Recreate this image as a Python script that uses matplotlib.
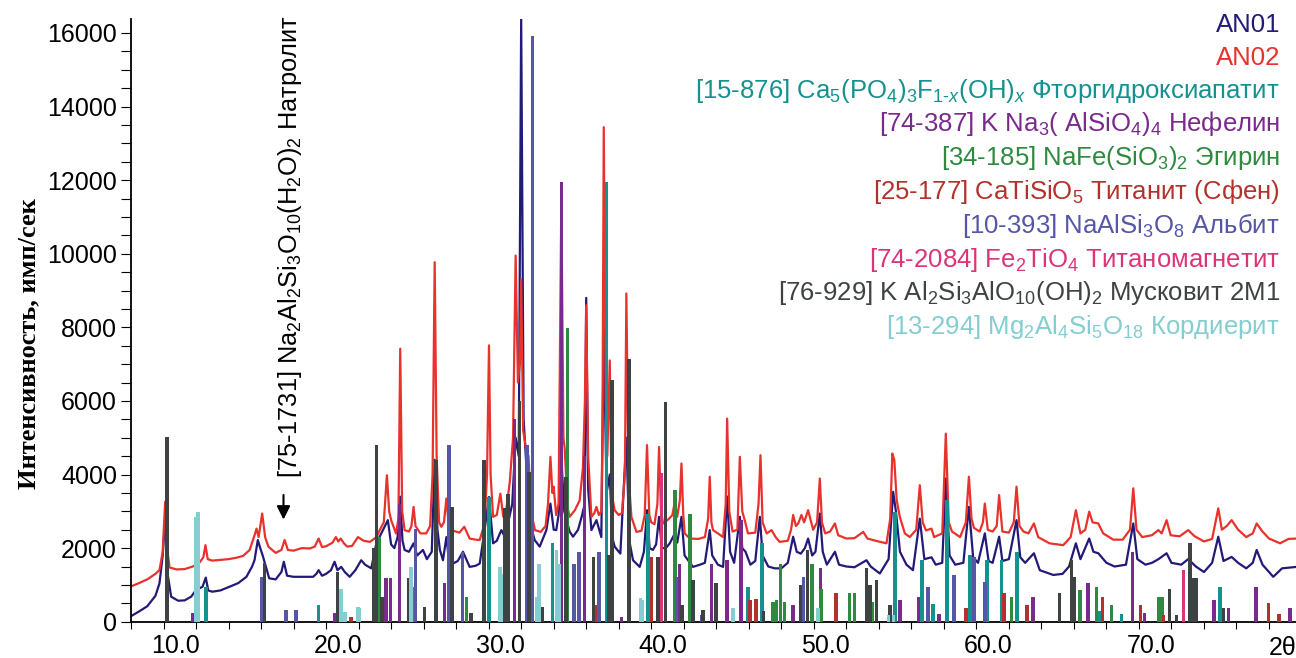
import numpy as np
import matplotlib
matplotlib.use('Agg')
import matplotlib.pyplot as plt
from matplotlib.transforms import ScaledTranslation

# ---- данные (2θ, имп/сек) ----
an02_points = [
    (8.0, 960), (8.5, 1050), (9.0, 1150), (9.5, 1300), (9.75, 1400), (9.95, 1900), (10.1, 3260),
    (10.22, 2000), (10.37, 1475), (10.8, 1420), (11.3, 1430), (11.8, 1500), (12.2, 1600), (12.45, 1750),
    (12.58, 2080), (12.72, 1700), (13.0, 1660), (13.5, 1680), (14.0, 1700), (14.5, 1740), (14.9, 1790),
    (15.3, 1950), (15.6, 2350), (15.72, 2530), (15.85, 2300), (16.07, 2940), (16.25, 2300), (16.45, 2040),
    (16.9, 1870), (17.25, 1950), (17.45, 2220), (17.65, 1950), (18.0, 1930), (18.5, 2000), (19.0, 1990),
    (19.3, 2040), (19.54, 2260), (19.75, 2030), (20.0, 2050), (20.4, 2150), (20.6, 2300), (20.75, 2180),
    (20.9, 2260), (21.1, 2130), (21.3, 2040), (21.6, 2060), (21.96, 2300), (22.3, 2200), (22.7, 2170),
    (23.1, 2300), (23.3, 2490), (23.55, 2700), (23.74, 3980), (23.88, 3000), (24.0, 2760), (24.3, 2400),
    (24.45, 2800), (24.56, 7420), (24.68, 3000), (24.83, 2490), (25.1, 2450), (25.25, 2600), (25.38, 3120),
    (25.5, 2600), (25.8, 2400), (26.16, 2400), (26.4, 2600), (26.55, 4000), (26.68, 9770), (26.8, 4500),
    (26.95, 2700), (27.09, 2580), (27.25, 2700), (27.4, 3350), (27.55, 2600), (27.7, 2490), (28.2, 2420),
    (28.5, 2580), (28.83, 2260), (29.2, 2230), (29.45, 2220), (29.75, 2670), (29.9, 4000), (30.02, 7510),
    (30.12, 4000), (30.27, 2850), (30.5, 2900), (30.72, 3480), (30.9, 2850), (31.1, 3100), (31.3, 3800),
    (31.5, 5000), (31.66, 9950), (31.8, 6500), (31.92, 7000), (32.0, 9300), (32.12, 5200), (32.3, 4700),
    (32.45, 4500), (32.6, 3000), (32.85, 2490), (33.2, 2440), (33.5, 2600), (33.65, 3200), (33.8, 4480),
    (33.92, 3500), (34.0, 3670), (34.15, 2900), (34.3, 3200), (34.47, 11450), (34.6, 5000), (34.68, 4700),
    (34.85, 3100), (34.98, 2850), (35.3, 3030), (35.6, 3300), (35.8, 4200), (35.92, 6000), (36.0, 8600),
    (36.12, 4500), (36.32, 2850), (36.5, 2950), (36.63, 3120), (36.78, 2900), (36.93, 3000), (37.0, 5000),
    (37.08, 13440), (37.2, 6000), (37.3, 4500), (37.45, 7100), (37.56, 3500), (37.75, 3030), (38.0, 2900),
    (38.2, 2950), (38.38, 4000), (38.47, 8920), (38.6, 4000), (38.78, 2850), (39.09, 2440), (39.4, 2470),
    (39.6, 2900), (39.74, 4800), (39.88, 2900), (40.0, 2700), (40.2, 2650), (40.38, 3200), (40.48, 4750),
    (40.6, 3000), (40.73, 2670), (41.1, 2800), (41.3, 2900), (41.45, 3260), (41.6, 2850), (41.76, 3300),
    (41.86, 4300), (41.97, 2900), (42.06, 2400), (42.37, 2260), (42.9, 2250), (43.3, 2300), (43.5, 2800),
    (43.6, 3940), (43.7, 2700), (43.8, 2490), (44.1, 2400), (44.42, 2300), (44.58, 3200), (44.67, 5520),
    (44.8, 3000), (45.0, 2450), (45.3, 2500), (45.45, 4480), (45.6, 3000), (45.75, 2760), (45.95, 2400),
    (46.4, 2420), (46.6, 3200), (46.72, 4525), (46.85, 2700), (47.1, 2400), (47.4, 2490), (47.65, 2300),
    (47.9, 2170), (48.4, 2200), (48.6, 2500), (48.73, 2900), (48.9, 2600), (49.04, 2670), (49.24, 2900),
    (49.4, 2700), (49.65, 3030), (49.96, 2500), (50.2, 2700), (50.37, 3890), (50.5, 2700), (50.7, 2400),
    (51.0, 2450), (51.3, 2670), (51.5, 2350), (52.0, 2260), (52.5, 2270), (53.04, 2440), (53.3, 2260),
    (53.8, 2200), (54.47, 2130), (54.7, 2800), (54.83, 4570), (54.95, 4400), (55.1, 3300), (55.29, 2850),
    (55.6, 2400), (55.9, 2300), (56.3, 2500), (56.52, 3710), (56.7, 2700), (56.9, 2480), (57.24, 2530),
    (57.4, 2300), (57.9, 2400), (58.12, 5110), (58.3, 2700), (58.5, 2450), (59.0, 2300), (59.35, 2700),
    (59.54, 3940), (59.7, 2800), (59.85, 2550), (60.2, 2450), (60.4, 2700), (60.52, 3210), (60.7, 2500),
    (61.0, 2450), (61.25, 2600), (61.4, 3440), (61.6, 2450), (62.0, 2420), (62.3, 2700), (62.47, 3670),
    (62.65, 2600), (62.9, 2450), (63.2, 2400), (63.54, 2670), (63.8, 2300), (64.5, 2130), (65.34, 2080),
    (65.8, 2300), (66.12, 3030), (66.4, 2400), (66.7, 2500), (66.94, 2990), (67.15, 2700), (67.5, 2670),
    (67.8, 2400), (68.42, 2230), (69.0, 2230), (69.45, 2500), (69.65, 3625), (69.85, 2500), (70.2, 2300),
    (70.8, 2350), (71.19, 2490), (71.4, 2400), (71.7, 2760), (71.95, 2350), (72.5, 2320), (73.03, 2490),
    (73.4, 2330), (74.0, 2180), (74.5, 2250), (74.88, 3080), (75.1, 2500), (75.4, 2600), (75.7, 2760),
    (76.1, 2500), (76.6, 2300), (77.0, 2400), (77.24, 2670), (77.6, 2450), (78.0, 2260), (78.68, 2130),
    (79.2, 2250), (79.7, 2260),
]

an01_points = [
    (8.0, 150), (8.5, 280), (9.0, 420), (9.14, 500), (9.5, 700), (9.75, 1040), (9.95, 1800), (10.1, 2800),
    (10.25, 1300), (10.47, 680), (10.9, 570), (11.3, 580), (11.7, 680), (12.0, 860), (12.4, 950),
    (12.6, 1200), (12.75, 850), (13.0, 815), (13.5, 850), (14.06, 950), (14.6, 1050), (15.1, 1220),
    (15.45, 1500), (15.6, 1675), (15.8, 2220), (15.95, 2000), (16.1, 1800), (16.5, 1180), (16.9, 1150),
    (17.25, 1350), (17.4, 1630), (17.6, 1250), (18.0, 1220), (18.5, 1220), (19.2, 1220), (19.4, 1300),
    (19.54, 1400), (19.75, 1250), (20.0, 1300), (20.3, 1400), (20.52, 1630), (20.7, 1400), (20.93, 1490),
    (21.15, 1350), (21.45, 1220), (21.8, 1400), (22.16, 1670), (22.4, 1550), (22.78, 1450), (23.09, 2130),
    (23.5, 2490), (23.8, 2760), (24.0, 2100), (24.2, 2000), (24.4, 2300), (24.55, 3400), (24.7, 2200),
    (24.83, 1950), (25.1, 1900), (25.38, 2130), (25.6, 1800), (25.96, 1950), (26.2, 1700), (26.5, 1900),
    (26.68, 4400), (26.85, 2500), (27.0, 1950), (27.19, 1670), (27.4, 2300), (27.55, 1700), (27.8, 1580),
    (28.1, 1650), (28.42, 1900), (28.83, 1490), (29.2, 1520), (29.45, 1580), (29.75, 2490), (30.02, 3390),
    (30.27, 2130), (30.5, 2200), (30.78, 2490), (31.0, 2300), (31.2, 2700), (31.45, 3200), (31.66, 5000),
    (31.85, 4500), (32.0, 16400), (32.15, 5500), (32.35, 4000), (32.55, 2670), (32.83, 2220), (33.14, 2040),
    (33.55, 2490), (33.8, 3210), (34.0, 2500), (34.16, 2490), (34.3, 2900), (34.47, 4480), (34.65, 3000),
    (34.98, 2450), (35.19, 2310), (35.5, 2500), (35.75, 2900), (35.91, 3210), (36.0, 8800), (36.12, 3600),
    (36.32, 2490), (36.63, 2760), (36.93, 2300), (37.08, 8000), (37.25, 3500), (37.45, 4000), (37.6, 2300),
    (37.75, 2040), (38.1, 1850), (38.47, 5000), (38.65, 2200), (38.88, 1670), (39.29, 1490), (39.55, 1900),
    (39.74, 3030), (39.9, 2000), (40.1, 1950), (40.3, 2100), (40.48, 2850), (40.65, 2000), (40.9, 2000),
    (41.14, 2130), (41.45, 2400), (41.6, 2150), (41.86, 2850), (42.05, 1800), (42.57, 1490), (43.0, 1550),
    (43.3, 1600), (43.6, 2490), (43.75, 1800), (44.1, 1550), (44.42, 1490), (44.67, 3400), (44.85, 1900),
    (45.1, 1600), (45.45, 2850), (45.6, 2000), (45.8, 1900), (46.1, 1550), (46.4, 1650), (46.68, 2850),
    (46.85, 1800), (47.2, 1500), (47.6, 1450), (48.0, 1450), (48.4, 1600), (48.73, 2310), (48.95, 1900),
    (49.2, 1850), (49.45, 2000), (49.65, 2260), (49.9, 1800), (50.1, 1900), (50.37, 2940), (50.55, 1900),
    (50.8, 1550), (51.3, 1900), (51.55, 1550), (52.0, 1500), (52.5, 1480), (53.24, 1670), (53.5, 1500),
    (54.06, 1310), (54.6, 1700), (54.88, 3530), (55.05, 3000), (55.3, 1900), (55.7, 1550), (56.1, 1400),
    (56.52, 2800), (56.8, 1700), (57.24, 1750), (57.5, 1550), (57.9, 1600), (58.12, 3890), (58.35, 1800),
    (58.7, 1550), (59.2, 1600), (59.54, 3120), (59.8, 1750), (60.1, 1600), (60.52, 2400), (60.75, 1650),
    (61.0, 1600), (61.4, 2310), (61.6, 1650), (62.0, 1700), (62.47, 2760), (62.7, 1750), (63.0, 1600),
    (63.54, 1860), (63.9, 1400), (64.73, 1270), (65.3, 1300), (65.7, 1500), (66.12, 2130), (66.4, 1700),
    (66.94, 2260), (67.2, 1900), (67.5, 1860), (68.0, 1600), (68.5, 1500), (69.2, 1550), (69.65, 2670),
    (69.9, 1700), (70.4, 1550), (70.8, 1600), (71.2, 1700), (71.7, 1860), (72.0, 1600), (72.6, 1550),
    (73.03, 1700), (73.5, 1500), (74.0, 1350), (74.5, 1600), (74.88, 2310), (75.2, 1650), (75.7, 1760),
    (76.1, 1600), (76.6, 1450), (77.0, 1600), (77.24, 1950), (77.6, 1550), (78.26, 1220), (78.8, 1450),
    (79.7, 1490),
]

# штрих-диаграммы фаз из базы PDF
apatite = [(12.63, 950), (19.54, 450), (25.34, 950), (30.02, 3400), (33.92, 2130), (37.24, 11950),
           (38.6, 3100), (39.8, 2940), (45.96, 950), (46.8, 2130), (54.98, 2990), (56.65, 1670),
           (57.34, 480), (58.2, 3300), (59.62, 1800), (60.67, 1670), (61.55, 1670), (62.51, 1900),
           (67.6, 300), (68.93, 220), (71.29, 680), (74.98, 950)]
nepheline = [(11.8, 225), (20.52, 225), (23.7, 1180), (23.97, 1180), (24.52, 3200), (27.29, 1040),
             (31.6, 5500), (34.47, 11950), (35.6, 1900), (35.9, 4500), (38.16, 140), (41.75, 1580),
             (43.7, 1580), (44.65, 1670), (45.52, 2760), (48.73, 450), (50.4, 1450), (55.29, 590),
             (56.45, 680), (57.7, 200), (63.5, 680), (66.88, 1040), (69.6, 1900), (70.35, 225),
             (74.61, 590), (75.5, 360), (77.2, 950), (79.29, 360)]
aegirine = [(23.25, 2310), (28.63, 680), (34.84, 7970), (41.45, 3575), (42.37, 2940), (47.5, 540),
            (47.7, 600), (47.95, 1580), (48.2, 540), (49.9, 1580), (50.45, 900), (52.2, 770),
            (52.5, 770), (53.6, 540), (62.16, 680), (66.37, 860), (67.4, 950), (68.3, 450),
            (71.19, 680), (71.4, 680)]
titanite = [(20.79, 680), (21.55, 135), (36.58, 450), (40.01, 1760), (46.06, 590), (46.45, 630),
            (51.35, 770), (59.35, 360), (61.69, 770), (63.13, 450), (67.76, 680), (70.1, 450),
            (71.5, 180), (77.96, 500), (78.6, 220)]
albite = [(16.05, 1220), (17.55, 320), (18.16, 320), (25.51, 2530), (27.56, 4800), (28.38, 1900),
          (32.36, 4800), (32.69, 15930), (35.25, 1580), (35.56, 1900), (36.79, 1900), (41.55, 1220),
          (43.1, 180), (49.37, 1220), (57.03, 950), (58.61, 1270), (59.86, 1760), (60.52, 1090)]
titanomagnetite = [(40.63, 4030), (72.73, 1400)]
muscovite = [(10.23, 5020), (16.2, 1600), (20.69, 1360), (22.0, 120), (22.95, 1990), (23.11, 4800),
             (23.44, 680), (25.1, 1180), (26.06, 400), (26.75, 4400), (27.76, 3120), (28.93, 225),
             (29.72, 4390), (30.98, 3080), (31.19, 3480), (31.9, 6000), (32.48, 4070), (33.27, 400),
             (34.74, 3940), (36.46, 1760), (37.4, 1810), (37.59, 6560), (38.65, 7150), (40.42, 1760),
             (40.89, 5970), (41.9, 450), (42.57, 1130), (43.19, 320), (44.0, 1040), (46.9, 300),
             (49.18, 1000), (49.6, 1950), (53.24, 1450), (53.45, 1000), (53.85, 1130), (54.68, 450),
             (65.1, 770), (65.86, 1670), (66.0, 1220), (71.87, 900), (72.3, 180), (73.14, 2130),
             (73.34, 1180), (73.5, 1180), (75.2, 360)]
cordierite = [(11.97, 2850), (12.13, 2990), (20.93, 900), (21.18, 270), (21.96, 400), (22.05, 380),
              (25.22, 1490), (30.68, 1490), (30.78, 1300), (32.93, 680), (33.1, 1580), (34.16, 1950),
              (34.33, 1580), (39.35, 650), (39.45, 600), (45.04, 360), (50.27, 360), (54.6, 180),
              (54.9, 180)]

legend_labels = [
    'AN01',
    'AN02',
    r'[15-876] Ca$_5$(PO$_4$)$_3$F$_{1\text{-}x}$(OH)$_x$ Фторгидроксиапатит',
    r'[74-387] K Na$_3$( AlSiO$_4$)$_4$ Нефелин',
    r'[34-185] NaFe(SiO$_3$)$_2$ Эгирин',
    r'[25-177] CaTiSiO$_5$ Титанит (Сфен)',
    r'[10-393] NaAlSi$_3$O$_8$ Альбит',
    r'[74-2084] Fe$_2$TiO$_4$ Титаномагнетит',
    r'[76-929] K Al$_2$Si$_3$AlO$_{10}$(OH)$_2$ Мусковит 2M1',
    r'[13-294] Mg$_2$Al$_4$Si$_5$O$_{18}$ Кордиерит',
]
legend_colors = ['#221a78', '#e8322c', '#15918f', '#7a2a8c', '#2e8a3e', '#b2322b',
                 '#5656a6', '#dc3479', '#3e4242', '#84cdd0']

phases = [apatite, nepheline, aegirine, titanite, albite, titanomagnetite, muscovite, cordierite]

plt.rcParams.update({
    'font.family': ['Liberation Sans', 'DejaVu Sans'],
    'mathtext.fontset': 'custom',
    'mathtext.rm': 'Liberation Sans',
    'mathtext.it': 'Liberation Sans:italic',
    'mathtext.bf': 'Liberation Sans:bold',
})

fig = plt.figure(figsize=(12.96, 6.58), dpi=100)
ax = fig.add_axes([131 / 1296, 1 - 621.7 / 658, 1 - 131 / 1296, (621.7 - 19) / 658])

a1 = np.array(an01_points)
a2 = np.array(an02_points)
ax.plot(a1[:, 0], a1[:, 1], color=legend_colors[0], lw=1.6, zorder=2)
ax.plot(a2[:, 0], a2[:, 1], color=legend_colors[1], lw=1.6, zorder=2)

for ph, col in zip(phases, legend_colors[2:]):
    p = np.array(ph)
    ax.bar(p[:, 0], p[:, 1], width=0.22, color=col, linewidth=0, zorder=3)

ax.set_xlim(8, 79.66)
ax.set_ylim(0, 16380)
ax.set_xticks(np.arange(10, 71, 10))
ax.set_xticks(np.arange(8, 80, 2), minor=True)
ax.set_xticklabels([f'{v:.1f}' for v in range(10, 71, 10)])
ax.set_yticks(np.arange(0, 16001, 2000))
ax.set_yticks(np.arange(0, 16001, 500), minor=True)
ax.tick_params(axis='y', which='both', direction='out', length=7, width=0.8, labelsize=18, pad=3)
ax.tick_params(axis='x', which='both', direction='out', length=5, width=0.8, labelsize=18, pad=4)
for lab in ax.get_xticklabels():
    lab.set_transform(lab.get_transform() + ScaledTranslation(12 / 100, 0, fig.dpi_scale_trans))
for s in ['top', 'right']:
    ax.spines[s].set_visible(False)
for s in ['left', 'bottom']:
    ax.spines[s].set_linewidth(1.3)

fig.text(1283 / 1296, 1 - 648 / 658, '2θ', fontsize=18, ha='center', va='center')

fig.text(29 / 1296, 1 - 344 / 658, 'Интенсивность, имп/сек', rotation=90, ha='center', va='center',
         fontsize=19, fontweight='bold', family=['Liberation Serif', 'DejaVu Serif'])

# натролит: подпись и стрелка
ax.text(17.75, 3900, r'[75-1731] Na$_2$Al$_2$Si$_3$O$_{10}$(H$_2$O)$_2$ Натролит', rotation=90,
        ha='center', va='bottom', fontsize=18.3)
ax.annotate('', xy=(17.38, 2700), xytext=(17.38, 3520),
            arrowprops=dict(arrowstyle='-|>', color='black', lw=1.5, mutation_scale=20))

baselines = [32, 65, 98, 131.5, 165, 199, 233, 267, 300, 334]
for lab, col, yb in zip(legend_labels, legend_colors, baselines):
    fig.text(1280 / 1296, 1 - yb / 658, lab, color=col, fontsize=18.5, ha='right', va='baseline')

fig.savefig('out.png', dpi=100)
